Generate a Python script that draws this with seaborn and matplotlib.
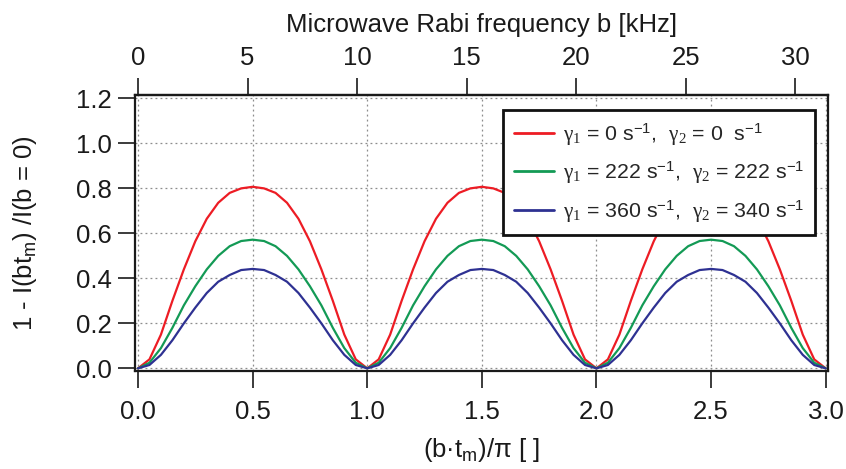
import numpy as np
import pandas as pd
import matplotlib
matplotlib.use("Agg")
import matplotlib.pyplot as plt
import seaborn as sns

# Normalised signal 1 - I(b t_m)/I(b=0) sampled every 0.05 in (b t_m)/pi
x_scaled = np.round(np.arange(0.0, 3.0001, 0.05), 2)

signal_g0 = [0.000, 0.040, 0.150, 0.300, 0.440, 0.565, 0.665, 0.736, 0.780, 0.800, 0.807,
             0.800, 0.780, 0.736, 0.665, 0.565, 0.440, 0.300, 0.150, 0.040, 0.000,
             0.040, 0.150, 0.300, 0.440, 0.565, 0.665, 0.736, 0.780, 0.800, 0.807,
             0.800, 0.780, 0.736, 0.665, 0.565, 0.440, 0.300, 0.150, 0.040, 0.000,
             0.040, 0.150, 0.300, 0.440, 0.565, 0.665, 0.736, 0.780, 0.800, 0.807,
             0.800, 0.780, 0.736, 0.665, 0.565, 0.440, 0.300, 0.150, 0.040, 0.000]

signal_g222 = [0.000, 0.025, 0.090, 0.180, 0.280, 0.365, 0.440, 0.500, 0.543, 0.566, 0.572,
               0.566, 0.543, 0.500, 0.440, 0.365, 0.280, 0.180, 0.090, 0.025, 0.000,
               0.025, 0.090, 0.180, 0.280, 0.365, 0.440, 0.500, 0.543, 0.566, 0.572,
               0.566, 0.543, 0.500, 0.440, 0.365, 0.280, 0.180, 0.090, 0.025, 0.000,
               0.025, 0.090, 0.180, 0.280, 0.365, 0.440, 0.500, 0.543, 0.566, 0.572,
               0.566, 0.543, 0.500, 0.440, 0.365, 0.280, 0.180, 0.090, 0.025, 0.000]

signal_g360 = [0.000, 0.015, 0.060, 0.125, 0.200, 0.270, 0.335, 0.385, 0.415, 0.437, 0.442,
               0.437, 0.415, 0.385, 0.335, 0.270, 0.200, 0.125, 0.060, 0.015, 0.000,
               0.015, 0.060, 0.125, 0.200, 0.270, 0.335, 0.385, 0.415, 0.437, 0.442,
               0.437, 0.415, 0.385, 0.335, 0.270, 0.200, 0.125, 0.060, 0.015, 0.000,
               0.015, 0.060, 0.125, 0.200, 0.270, 0.335, 0.385, 0.415, 0.437, 0.442,
               0.437, 0.415, 0.385, 0.335, 0.270, 0.200, 0.125, 0.060, 0.015, 0.000]

series_labels = [
    r"$\mathrm{\gamma_1}$ = 0 s$^{\mathsf{-1}}$,  $\mathrm{\gamma_2}$ = 0  s$^{\mathsf{-1}}$",
    r"$\mathrm{\gamma_1}$ = 222 s$^{\mathsf{-1}}$,  $\mathrm{\gamma_2}$ = 222 s$^{\mathsf{-1}}$",
    r"$\mathrm{\gamma_1}$ = 360 s$^{\mathsf{-1}}$,  $\mathrm{\gamma_2}$ = 340 s$^{\mathsf{-1}}$",
]
series_colors = ["#ed1c24", "#139a55", "#2e3192"]

x_ticks = [0.0, 0.5, 1.0, 1.5, 2.0, 2.5, 3.0]
y_ticks = [0.0, 0.2, 0.4, 0.6, 0.8, 1.0, 1.2]
top_ticks = [0, 5, 10, 15, 20, 25, 30]
KHZ_PER_UNIT = 10.46   # Rabi frequency b [kHz] per unit of (b t_m)/pi

df = pd.concat([
    pd.DataFrame({"x": x_scaled, "y": vals, "series": lab})
    for vals, lab in zip([signal_g0, signal_g222, signal_g360], series_labels)
], ignore_index=True)

sns.set_style("ticks")
plt.rcParams["font.family"] = ["Liberation Sans", "DejaVu Sans"]
plt.rcParams["mathtext.fontset"] = "custom"
plt.rcParams["mathtext.rm"] = "Liberation Serif"
plt.rcParams["mathtext.sf"] = "Liberation Sans"
plt.rcParams["mathtext.it"] = "Liberation Sans:italic"

fig = plt.figure(figsize=(8.46, 4.69), dpi=100)
ax = fig.add_axes([0.1596, 0.2098, 0.8191, 0.5876])

sns.lineplot(data=df, x="x", y="y", hue="series", hue_order=series_labels,
             palette=series_colors, linewidth=1.6, ax=ax, sort=False)

ax.set_xlim(-0.013, 3.010)
ax.set_ylim(-0.010, 1.215)
ax.set_xticks(x_ticks)
ax.set_xticklabels([f"{t:.1f}" for t in x_ticks])
ax.set_yticks(y_ticks)
ax.set_yticklabels([f"{t:.1f}" for t in y_ticks])

ax.grid(True, color="#8c8c8c", linestyle=(0, (1.5, 2.5)), linewidth=0.9)
for s in ax.spines.values():
    s.set_linewidth(1.6)
    s.set_color("#1a1a1a")

ax.tick_params(axis="both", direction="out", length=12, width=1.2,
               colors="#1a1a1a", labelsize=18.5)
ax.tick_params(axis="x", pad=9)
ax.tick_params(axis="y", pad=5)

ax.set_xlabel(r"(b·t$_{\mathsf{m}}$)/π [ ]", fontsize=18.5, labelpad=9, color="#1a1a1a")
ax.set_ylabel(r"1 - I(bt$_{\mathsf{m}}$) /I(b = 0)", fontsize=18.5, labelpad=26, color="#1a1a1a")

top = ax.secondary_xaxis("top", functions=(lambda v: v * KHZ_PER_UNIT,
                                           lambda f: f / KHZ_PER_UNIT))
top.set_xticks(top_ticks)
top.tick_params(direction="out", length=12, width=1.2, colors="#1a1a1a",
                labelsize=18.5, pad=6)
top.spines["top"].set_linewidth(1.6)
top.set_xlabel("Microwave Rabi frequency b [kHz]", fontsize=18.5, labelpad=10, color="#1a1a1a")

leg = ax.legend(loc="upper right", bbox_to_anchor=(0.981, 0.9456), fontsize=15.3,
                frameon=True, fancybox=False, framealpha=1, edgecolor="#111111",
                handlelength=1.9, handletextpad=0.4, labelspacing=0.55,
                borderpad=0.5, borderaxespad=0.0)
leg.get_frame().set_linewidth(2.0)
for line in leg.get_lines():
    line.set_linewidth(2.0)

fig.savefig("out.png", dpi=100)
